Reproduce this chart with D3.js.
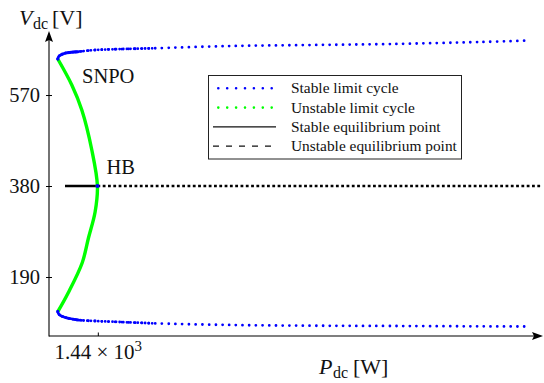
<!DOCTYPE html>
<html>
<head>
<meta charset="utf-8">
<script src="https://cdn.jsdelivr.net/npm/d3@7"></script>
</head>
<body style="margin:0">
<svg id="chart" width="544" height="383"></svg>
<script>
// stable limit cycle, upper branch (P in W, V in V)
const upperP = [1435.0, 1435.16, 1435.84, 1437.54, 1439.66, 1441.79, 1446.79, 1456.54, 1466.54, 1476.54, 1487.79, 1493.29];
const upperV = [645.2, 651.4, 657.1, 660.4, 664.0, 665.4, 667.5, 672.3, 674.4, 676.5, 680.7, 683.4];
// stable limit cycle, lower branch
const lowerP = [1435.0, 1435.16, 1435.84, 1437.54, 1439.66, 1441.79, 1446.79, 1456.54, 1466.54, 1476.54, 1493.29];
const lowerV = [117.5, 111.7, 105.9, 100.2, 98.1, 96.7, 93.3, 89.8, 88.3, 87.7, 86.6];
// unstable limit cycle
const unstableP = [1435.0, 1436.75, 1438.0, 1439.25, 1439.95, 1439.66, 1438.83, 1438.04, 1436.29, 1435.0];
const unstableV = [645.2, 590.9, 538.7, 455.2, 380, 325.7, 271.4, 219.2, 156.6, 117.5];
// equilibrium points
const stableEqP = [1435.9, 1439.95];
const unstableEqP = [1439.95, 1495.4];
const eqV = 380;
const hbP = 1439.95;

const yTicks = [190, 380, 570];
const xTicks = [1440];
const legendLabels = ["Stable limit cycle", "Unstable limit cycle", "Stable equilibrium point", "Unstable equilibrium point"];

const BLUE = "#0000ff", GREEN = "#00ff00";
const FONT = `"Liberation Serif"`;

const svg = d3.select("#chart");
const x = d3.scaleLinear().domain([1433.9, 1495.5]).range([49, 542]);
const y = d3.scaleLinear().domain([66.8, 701.6]).range([336, 32]);

const zip = (a, b) => a.map((v, i) => [v, b[i]]);
const line = d3.line().x(d => x(d[0])).y(d => y(d[1])).curve(d3.curveCatmullRom.alpha(0.5));

// serif text helper
const txt = (sel, size) => sel.attr("font-family", FONT).style("font-family", FONT)
  .attr("font-size", size).attr("fill", "#111");

// equilibrium lines
svg.append("path")
  .attr("d", line(stableEqP.map(p => [p, eqV])))
  .attr("fill", "none").attr("stroke", "#000").attr("stroke-width", 2.6);
svg.append("path")
  .attr("d", line(unstableEqP.map(p => [p, eqV])))
  .attr("fill", "none").attr("stroke", "#000").attr("stroke-width", 2.6)
  .attr("stroke-dasharray", "2.8 2.5");

// unstable limit cycle
svg.append("path")
  .attr("d", line(zip(unstableP, unstableV)))
  .attr("fill", "none").attr("stroke", GREEN).attr("stroke-width", 3.4);

// stable limit cycle branches: dense near the fold, dotted further out
[zip(upperP, upperV), zip(lowerP, lowerV)].forEach(pts => {
  svg.append("path")
    .attr("d", line(pts))
    .attr("fill", "none").attr("stroke", BLUE).attr("stroke-width", 2.8)
    .attr("stroke-linecap", "round").attr("stroke-dasharray", "0 6.7");
  svg.append("path")
    .attr("d", line(pts.slice(0, 7)))
    .attr("fill", "none").attr("stroke", BLUE).attr("stroke-width", 2.8)
    .attr("stroke-linecap", "round").attr("stroke-dasharray", "0 3.6");
  svg.append("path")
    .attr("d", line(pts.slice(0, 4)))
    .attr("fill", "none").attr("stroke", BLUE).attr("stroke-width", 2.8)
    .attr("stroke-linecap", "round");
});

// Hopf point
svg.append("circle")
  .attr("cx", x(hbP)).attr("cy", y(eqV)).attr("r", 2).attr("fill", BLUE);

// axes
const [x0, x1] = x.range();
const [y0, y1] = y.range();
svg.append("line").attr("x1", x0).attr("x2", x1 - 8).attr("y1", y0).attr("y2", y0)
  .attr("stroke", "#000").attr("stroke-width", 1.1);
svg.append("line").attr("x1", x0).attr("x2", x0).attr("y1", y0 + 0.5).attr("y2", y1 + 8)
  .attr("stroke", "#000").attr("stroke-width", 1.1);
svg.append("path").attr("d", `M${x1 + 1},${y0} L${x1 - 10},${y0 - 4} L${x1 - 8},${y0} L${x1 - 10},${y0 + 4} Z`).attr("fill", "#000");
svg.append("path").attr("d", `M${x0},${y1 - 1} L${x0 - 4},${y1 + 10} L${x0},${y1 + 8} L${x0 + 4},${y1 + 10} Z`).attr("fill", "#000");

const yAxis = svg.append("g").attr("transform", `translate(${x0},0)`)
  .call(d3.axisLeft(y).tickValues(yTicks).tickSize(3).tickPadding(6));
yAxis.select(".domain").remove();
yAxis.attr("font-family", null);
yAxis.selectAll(".tick line").attr("x1", 3).attr("x2", -3).attr("stroke-width", 1);
txt(yAxis.selectAll(".tick text"), 20.5).attr("dy", "0.33em");

const xAxis = svg.append("g").attr("transform", `translate(0,${y0})`)
  .call(d3.axisBottom(x).tickValues(xTicks).tickSize(0).tickFormat(""));
xAxis.select(".domain").remove();
xAxis.attr("font-family", null);
xAxis.selectAll(".tick line").attr("y1", -3.5).attr("y2", 0).attr("stroke-width", 1);
xAxis.selectAll(".tick").each(function(d) {
  const t = txt(d3.select(this).append("text"), 21).attr("y", 23).attr("text-anchor", "middle");
  t.append("tspan").text((d / 1000).toFixed(2) + " × 10");
  t.append("tspan").attr("dy", -8).attr("font-size", 15).text("3");
});

// axis labels
const yl = txt(svg.append("text"), 22).attr("x", 19).attr("y", 25);
yl.append("tspan").attr("font-style", "italic").text("V");
yl.append("tspan").attr("x", 33).attr("dy", 3.5).attr("font-size", 16).text("dc");
yl.append("tspan").attr("x", 52).attr("dy", -3.5).text("[V]");

const xl = txt(svg.append("text"), 22).attr("x", 319).attr("y", 374);
xl.append("tspan").attr("font-style", "italic").text("P");
xl.append("tspan").attr("x", 333).attr("dy", 3.5).attr("font-size", 16).text("dc");
xl.append("tspan").attr("x", 353).attr("dy", -3.5).text("[W]");

// annotations
txt(svg.append("text"), 20.5).attr("x", 82).attr("y", 82.7).text("SNPO");
txt(svg.append("text"), 20.5).attr("x", 106.5).attr("y", 174.3).text("HB");

// legend
const lg = svg.append("g");
lg.append("rect").attr("x", 208.5).attr("y", 75.5).attr("width", 253).attr("height", 83.5)
  .attr("fill", "#fff").attr("stroke", "#222").attr("stroke-width", 1);
const rowY = i => 88.3 + i * 19.3;
const legendStyles = [
  { color: BLUE, width: 2.6, dash: "0 8.9", cap: "round", x1: 218.3 },
  { color: GREEN, width: 2.6, dash: "0 8.9", cap: "round", x1: 218.3 },
  { color: "#111", width: 1.3, dash: null, cap: "butt", x1: 213 },
  { color: "#111", width: 1.3, dash: "6 7", cap: "butt", x1: 213 }
];
legendLabels.forEach((label, i) => {
  const s = legendStyles[i];
  lg.append("line").attr("x1", s.x1).attr("x2", s.cap === "round" ? 272 : 276)
    .attr("y1", rowY(i)).attr("y2", rowY(i))
    .attr("stroke", s.color).attr("stroke-width", s.width)
    .attr("stroke-linecap", s.cap).attr("stroke-dasharray", s.dash);
  txt(lg.append("text"), 15.4).attr("x", 291).attr("y", rowY(i)).attr("dy", "0.33em").text(label);
});
</script>
</body>
</html>
